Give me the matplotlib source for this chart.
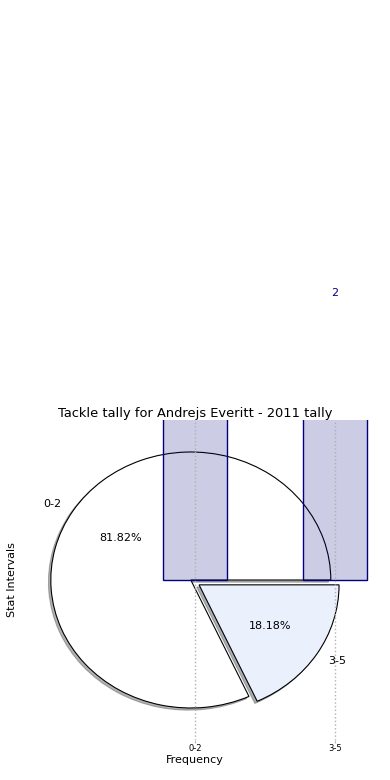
import matplotlib
matplotlib.use("Agg")
import matplotlib.pyplot as plt

# tackle counts per interval
intervals = ["0-2", "3-5"]
counts = [9, 2]
pie_colors = ["white", "#eaf0fc"]
explode = [0, 0.07]

fig = plt.figure(figsize=(3.9, 7.8), dpi=100)
ax = fig.add_axes([20 / 390, 40 / 780, 350 / 390, 320 / 780])

ax.pie(counts, labels=intervals, colors=pie_colors, explode=explode,
       autopct="%.2f%%", center=(-0.03, 0),
       shadow={"ox": -0.012, "oy": -0.012, "shade": 0.6},
       wedgeprops=dict(edgecolor="black", linewidth=0.8),
       textprops=dict(fontsize=8))
ax.set_aspect("auto")
ax.set_xlim(-1.25, 1.25)
ax.set_ylim(-1.25, 1.25)

x = list(range(len(intervals)))
bars = ax.bar(x, counts, width=0.46, color=(0, 0, 0.5, 0.2),
              edgecolor="navy", linewidth=1)

# value labels; the tall bar's label falls far above the figure, skip it
for xi, c in zip(x, counts):
    _, py = ax.transData.transform((xi, c + 0.2))
    if py < fig.bbox.height - 12:
        ax.text(xi, c + 0.2, str(c), ha="center", va="bottom",
                color="navy", fontsize=8)

ax.set_xticks(x)
ax.set_xticklabels(intervals, fontsize=6)
ax.set_yticks([])
ax.tick_params(axis="x", length=2, color="#bbbbbb", pad=1)
ax.grid(True, axis="x", linestyle=":", color="#b0b0b0", linewidth=1)
ax.set_frame_on(False)

ax.set_title("Tackle tally for Andrejs Everitt - 2011 tally", fontsize=9.4, pad=2)
ax.set_xlabel("Frequency", fontsize=8, labelpad=1)
ax.set_ylabel("Stat Intervals", fontsize=8, labelpad=2)

fig.savefig("out.png", dpi=100)
